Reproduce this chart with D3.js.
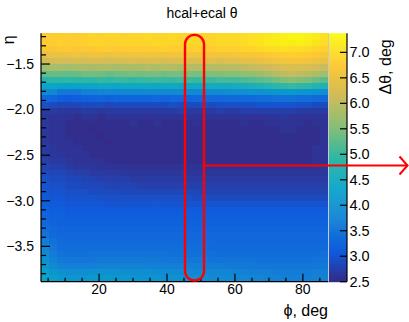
<!DOCTYPE html>
<html>
<head>
<meta charset="utf-8">
<script src="https://cdn.jsdelivr.net/npm/d3@7/dist/d3.min.js"></script>
<style>
  body { margin: 0; background: #fff; }
  text { font-family: "Liberation Sans", Arial, Helvetica, sans-serif; fill: #000; }
</style>
</head>
<body>
<svg id="chart" width="409" height="322"></svg>
<script>
// labels
const title = 'hcal+ecal θ';
const xTitle = 'ϕ, deg';
const yTitle = 'η';
const zTitle = 'Δθ, deg';

// axis ranges and ticks
const phiRange = [2.9, 87.4];
const etaRange = [-3.888, -1.163];
const zRange = [2.5, 7.374];
const xTicks = [20, 40, 60, 80];
const yTicks = [-3.5, -3.0, -2.5, -2.0, -1.5];
const zTicks = [2.5, 3.0, 3.5, 4.0, 4.5, 5.0, 5.5, 6.0, 6.5, 7.0];

// highlighted phi band and arrow (red annotation)
const bandPhi = [45.3, 50.9];
const bandEta = [-3.875, -1.18];
const arrowEta = -2.613;

// ROOT kBird palette
const birdStops = [0, 0.125, 0.25, 0.375, 0.5, 0.625, 0.75, 0.875, 1];
const birdR = [0.2082, 0.0592, 0.0780, 0.0232, 0.1802, 0.5301, 0.8186, 0.9956, 0.9764];
const birdG = [0.1664, 0.3599, 0.5041, 0.6419, 0.7178, 0.7492, 0.7328, 0.7862, 0.9832];
const birdB = [0.5293, 0.8684, 0.8385, 0.7914, 0.6425, 0.4662, 0.3499, 0.1968, 0.0539];

// mean delta theta, one row per eta bin (top row = highest eta), 36 phi bins each
const dtheta = [
  [6.8,6.8,6.8,6.85,6.8,6.85,6.9,6.85,6.9,6.9,6.85,6.9,6.9,6.95,6.9,6.9,6.95,6.9,6.9,6.95,6.9,6.9,6.95,6.95,6.95,7.0,7.05,7.1,7.15,7.2,7.25,7.3,7.3,7.25,7.2,7.05],
  [6.8,6.8,6.85,6.8,6.85,6.85,6.9,6.9,6.85,6.9,6.9,6.9,6.9,6.9,6.95,6.9,6.9,6.9,6.95,6.9,6.9,6.9,6.95,6.95,6.95,7.0,7.05,7.1,7.2,7.2,7.25,7.2,7.25,7.2,7.1,7.0],
  [6.7,6.7,6.75,6.75,6.7,6.75,6.75,6.8,6.8,6.75,6.8,6.8,6.8,6.8,6.8,6.85,6.8,6.8,6.8,6.85,6.8,6.8,6.85,6.85,6.85,6.9,6.9,6.95,7.0,7.0,7.05,7.0,7.0,6.95,6.9,6.85],
  [6.45,6.5,6.5,6.5,6.55,6.5,6.55,6.55,6.5,6.55,6.55,6.55,6.55,6.6,6.55,6.55,6.6,6.55,6.6,6.6,6.55,6.6,6.6,6.6,6.65,6.65,6.7,6.7,6.75,6.8,6.8,6.85,6.8,6.8,6.75,6.7],
  [6.15,6.2,6.2,6.2,6.25,6.2,6.25,6.25,6.2,6.25,6.25,6.3,6.25,6.3,6.3,6.25,6.3,6.3,6.3,6.3,6.3,6.35,6.3,6.35,6.35,6.4,6.4,6.45,6.5,6.55,6.6,6.6,6.6,6.55,6.5,6.45],
  [5.75,5.8,5.8,5.75,5.8,5.85,5.8,5.85,5.85,5.8,5.85,5.85,5.85,5.9,5.85,5.9,5.9,5.85,5.9,5.9,5.9,5.9,5.95,5.95,5.95,6.0,6.05,6.1,6.15,6.2,6.3,6.3,6.3,6.25,6.2,6.1],
  [5.3,5.35,5.35,5.3,5.35,5.4,5.4,5.4,5.35,5.4,5.4,5.45,5.4,5.45,5.45,5.4,5.45,5.45,5.5,5.45,5.5,5.5,5.5,5.55,5.55,5.6,5.65,5.7,5.8,5.9,6.0,6.05,6.0,5.95,5.85,5.75],
  [4.85,4.9,4.9,4.95,4.9,4.95,4.95,5.0,4.95,5.0,5.0,4.95,5.0,5.0,5.05,5.0,5.0,5.05,5.05,5.0,5.05,5.05,5.1,5.1,5.1,5.15,5.2,5.25,5.3,5.4,5.5,5.55,5.5,5.45,5.35,5.25],
  [4.4,4.4,4.35,4.3,4.35,4.4,4.4,4.45,4.45,4.4,4.45,4.45,4.45,4.5,4.45,4.5,4.5,4.45,4.5,4.5,4.5,4.55,4.55,4.55,4.6,4.6,4.65,4.7,4.8,4.9,4.95,5.0,4.95,4.9,4.8,4.7],
  [3.9,3.85,3.6,3.55,3.6,3.7,3.75,3.8,3.8,3.8,3.85,3.85,3.85,3.85,3.9,3.85,3.9,3.9,3.9,3.85,3.9,3.9,3.9,3.95,3.95,3.95,4.0,4.0,4.05,4.1,4.15,4.15,4.1,4.05,4.0,3.95],
  [3.3,3.25,3.15,3.1,3.15,3.2,3.2,3.25,3.2,3.25,3.25,3.25,3.25,3.25,3.3,3.25,3.3,3.3,3.25,3.3,3.3,3.3,3.3,3.35,3.35,3.35,3.35,3.4,3.4,3.45,3.45,3.45,3.4,3.4,3.35,3.3],
  [2.95,2.9,2.85,2.85,2.85,2.9,2.9,2.9,2.85,2.9,2.9,2.9,2.9,2.9,2.9,2.9,2.95,2.9,2.9,2.9,2.95,2.9,2.95,2.95,2.95,2.95,2.95,3.0,3.0,3.0,3.0,3.0,2.95,2.95,2.9,2.9],
  [2.7,2.7,2.65,2.65,2.65,2.7,2.7,2.65,2.7,2.7,2.7,2.7,2.7,2.7,2.7,2.7,2.7,2.75,2.7,2.7,2.7,2.7,2.75,2.7,2.7,2.75,2.75,2.75,2.75,2.75,2.75,2.75,2.7,2.7,2.7,2.7],
  [2.65,2.6,2.6,2.6,2.55,2.6,2.6,2.55,2.6,2.6,2.6,2.6,2.6,2.6,2.6,2.6,2.6,2.6,2.6,2.6,2.6,2.6,2.6,2.6,2.6,2.6,2.6,2.6,2.6,2.6,2.65,2.6,2.6,2.6,2.6,2.6],
  [2.65,2.6,2.6,2.55,2.55,2.55,2.55,2.55,2.55,2.55,2.55,2.6,2.55,2.55,2.6,2.55,2.55,2.55,2.55,2.6,2.55,2.55,2.55,2.55,2.55,2.6,2.55,2.55,2.6,2.6,2.6,2.6,2.6,2.55,2.6,2.6],
  [2.65,2.6,2.6,2.55,2.55,2.55,2.5,2.55,2.55,2.55,2.55,2.55,2.55,2.55,2.55,2.55,2.55,2.55,2.55,2.55,2.55,2.55,2.55,2.55,2.55,2.55,2.55,2.55,2.55,2.55,2.6,2.6,2.55,2.55,2.55,2.6],
  [2.65,2.6,2.6,2.55,2.55,2.55,2.55,2.5,2.55,2.55,2.55,2.55,2.55,2.55,2.55,2.55,2.55,2.55,2.55,2.55,2.55,2.55,2.55,2.55,2.55,2.55,2.55,2.55,2.55,2.55,2.55,2.55,2.55,2.55,2.55,2.6],
  [2.65,2.6,2.6,2.6,2.55,2.55,2.55,2.55,2.5,2.55,2.55,2.55,2.55,2.55,2.55,2.55,2.55,2.55,2.55,2.55,2.55,2.55,2.55,2.55,2.55,2.55,2.55,2.55,2.55,2.55,2.55,2.55,2.55,2.55,2.55,2.6],
  [2.7,2.65,2.6,2.6,2.6,2.55,2.55,2.55,2.55,2.55,2.55,2.55,2.55,2.55,2.55,2.55,2.55,2.55,2.55,2.55,2.55,2.55,2.55,2.55,2.55,2.55,2.55,2.55,2.55,2.55,2.55,2.55,2.55,2.55,2.6,2.6],
  [2.7,2.65,2.65,2.6,2.6,2.6,2.55,2.55,2.55,2.55,2.55,2.55,2.55,2.55,2.55,2.55,2.55,2.55,2.55,2.55,2.55,2.55,2.55,2.55,2.55,2.55,2.55,2.55,2.55,2.55,2.55,2.55,2.55,2.55,2.6,2.6],
  [2.75,2.7,2.7,2.65,2.6,2.6,2.6,2.6,2.55,2.55,2.55,2.55,2.55,2.55,2.55,2.55,2.55,2.55,2.55,2.55,2.55,2.55,2.55,2.55,2.55,2.55,2.55,2.55,2.55,2.55,2.55,2.55,2.55,2.55,2.6,2.6],
  [2.8,2.75,2.75,2.7,2.65,2.65,2.65,2.6,2.6,2.6,2.6,2.6,2.6,2.6,2.6,2.6,2.6,2.6,2.6,2.6,2.6,2.6,2.6,2.6,2.6,2.6,2.6,2.6,2.6,2.6,2.6,2.6,2.6,2.6,2.6,2.65],
  [2.9,2.85,2.85,2.8,2.75,2.75,2.7,2.7,2.7,2.7,2.65,2.65,2.65,2.65,2.65,2.65,2.65,2.65,2.65,2.65,2.65,2.65,2.65,2.65,2.65,2.65,2.65,2.65,2.65,2.65,2.65,2.65,2.65,2.65,2.65,2.65],
  [2.95,2.9,2.9,2.85,2.85,2.8,2.8,2.75,2.75,2.75,2.75,2.7,2.7,2.7,2.7,2.7,2.7,2.7,2.7,2.7,2.7,2.7,2.7,2.7,2.7,2.7,2.7,2.7,2.7,2.7,2.7,2.7,2.7,2.7,2.7,2.7],
  [3.0,2.95,2.95,2.9,2.9,2.85,2.85,2.85,2.8,2.8,2.8,2.8,2.75,2.75,2.75,2.75,2.75,2.75,2.75,2.75,2.75,2.75,2.75,2.75,2.75,2.75,2.75,2.75,2.75,2.75,2.75,2.75,2.75,2.75,2.75,2.75],
  [3.05,3.0,3.0,2.95,2.95,2.95,2.9,2.9,2.9,2.9,2.85,2.85,2.85,2.85,2.85,2.85,2.85,2.85,2.85,2.85,2.8,2.8,2.8,2.8,2.8,2.8,2.8,2.8,2.8,2.8,2.8,2.8,2.8,2.8,2.8,2.8],
  [3.1,3.05,3.05,3.0,3.0,3.0,3.0,2.95,2.95,2.95,2.95,2.95,2.95,2.95,2.95,2.95,2.95,2.95,2.95,2.9,2.9,2.9,2.9,2.9,2.9,2.9,2.9,2.9,2.9,2.9,2.9,2.9,2.9,2.9,2.9,2.9],
  [3.15,3.1,3.1,3.05,3.05,3.05,3.05,3.05,3.0,3.0,3.0,3.0,3.0,3.0,3.05,3.0,3.0,3.0,3.0,3.0,3.0,3.0,3.0,3.0,3.0,3.0,3.0,3.0,3.0,3.0,3.0,3.0,3.0,3.0,3.0,3.0],
  [3.2,3.15,3.15,3.1,3.1,3.1,3.1,3.1,3.1,3.1,3.1,3.1,3.1,3.1,3.1,3.1,3.1,3.1,3.1,3.1,3.1,3.1,3.1,3.1,3.1,3.1,3.1,3.1,3.1,3.1,3.1,3.1,3.1,3.1,3.1,3.1],
  [3.25,3.2,3.2,3.15,3.15,3.15,3.15,3.15,3.15,3.15,3.15,3.15,3.15,3.15,3.15,3.15,3.15,3.15,3.15,3.15,3.15,3.15,3.15,3.15,3.15,3.15,3.15,3.15,3.15,3.15,3.15,3.15,3.15,3.15,3.15,3.15],
  [3.3,3.25,3.2,3.2,3.2,3.2,3.2,3.2,3.2,3.2,3.2,3.2,3.2,3.2,3.2,3.2,3.2,3.2,3.2,3.2,3.2,3.2,3.2,3.2,3.2,3.2,3.2,3.2,3.2,3.2,3.2,3.2,3.2,3.2,3.2,3.2],
  [3.4,3.3,3.25,3.25,3.25,3.25,3.25,3.25,3.25,3.25,3.25,3.25,3.25,3.25,3.25,3.25,3.25,3.25,3.25,3.25,3.25,3.25,3.25,3.25,3.25,3.25,3.25,3.25,3.25,3.25,3.25,3.25,3.25,3.25,3.25,3.25],
  [3.5,3.35,3.3,3.3,3.3,3.3,3.3,3.3,3.3,3.3,3.3,3.3,3.3,3.3,3.3,3.3,3.3,3.3,3.3,3.3,3.3,3.3,3.3,3.3,3.3,3.3,3.3,3.3,3.3,3.3,3.3,3.3,3.3,3.3,3.3,3.3],
  [3.65,3.45,3.35,3.35,3.35,3.35,3.35,3.35,3.35,3.35,3.35,3.35,3.35,3.35,3.35,3.35,3.35,3.35,3.35,3.35,3.35,3.35,3.3,3.3,3.3,3.3,3.3,3.3,3.3,3.3,3.3,3.3,3.3,3.3,3.3,3.3],
  [3.8,3.55,3.4,3.4,3.4,3.4,3.4,3.4,3.4,3.4,3.4,3.4,3.4,3.4,3.4,3.4,3.4,3.4,3.4,3.4,3.4,3.35,3.35,3.35,3.35,3.35,3.35,3.35,3.35,3.35,3.35,3.35,3.35,3.35,3.35,3.35],
  [3.9,3.65,3.5,3.45,3.45,3.45,3.5,3.5,3.5,3.5,3.5,3.5,3.5,3.5,3.5,3.5,3.45,3.45,3.45,3.45,3.45,3.45,3.4,3.4,3.4,3.4,3.4,3.4,3.4,3.4,3.4,3.4,3.4,3.4,3.4,3.45],
  [4.0,3.75,3.6,3.55,3.55,3.55,3.55,3.6,3.6,3.6,3.6,3.6,3.6,3.6,3.6,3.55,3.55,3.55,3.55,3.55,3.55,3.5,3.5,3.5,3.5,3.5,3.5,3.45,3.45,3.45,3.45,3.45,3.45,3.45,3.5,3.5],
  [4.1,3.9,3.75,3.7,3.7,3.7,3.7,3.75,3.75,3.75,3.75,3.75,3.75,3.7,3.7,3.7,3.7,3.7,3.7,3.7,3.65,3.65,3.65,3.6,3.6,3.6,3.6,3.55,3.55,3.55,3.55,3.55,3.55,3.55,3.55,3.6],
  [4.3,4.1,4.0,3.95,3.95,3.95,4.0,4.0,4.0,4.0,3.95,3.95,3.95,3.95,3.9,3.9,3.9,3.9,3.85,3.85,3.85,3.8,3.8,3.8,3.75,3.75,3.7,3.7,3.7,3.65,3.65,3.65,3.65,3.65,3.7,3.7],
  [4.4,4.25,4.15,4.1,4.1,4.1,4.15,4.15,4.15,4.1,4.1,4.1,4.05,4.05,4.05,4.0,4.0,4.0,3.95,3.95,3.95,3.9,3.9,3.9,3.85,3.85,3.8,3.8,3.75,3.75,3.7,3.7,3.7,3.7,3.75,3.75]
];

// layout
const W = 409, H = 322;
const plot = { left: 41, right: 328, top: 33.3, bottom: 281.7 };
const bar = { left: 328, right: 347 };

const svg = d3.select('#chart');

const x = d3.scaleLinear().domain(phiRange).range([plot.left, plot.right]);
const y = d3.scaleLinear().domain(etaRange).range([plot.bottom, plot.top]);
const z = d3.scaleLinear().domain(zRange).range([plot.bottom, plot.top]);

const bird = d3.scaleLinear()
  .domain(birdStops.map(s => zRange[0] + s * (zRange[1] - zRange[0])))
  .range(birdStops.map((_, i) => d3.rgb(birdR[i] * 255, birdG[i] * 255, birdB[i] * 255)))
  .interpolate(d3.interpolateRgb)
  .clamp(true);

const nEta = dtheta.length, nPhi = dtheta[0].length;
const phiEdges = d3.range(nPhi + 1).map(j => phiRange[0] + j * (phiRange[1] - phiRange[0]) / nPhi);
const etaEdges = d3.range(nEta + 1).map(i => etaRange[1] - i * (etaRange[1] - etaRange[0]) / nEta);

const cells = [];
dtheta.forEach((row, i) => row.forEach((v, j) => cells.push({ i, j, v })));

svg.append('g')
  .attr('shape-rendering', 'crispEdges')
  .selectAll('rect')
  .data(cells)
  .join('rect')
  .attr('x', d => x(phiEdges[d.j]))
  .attr('y', d => y(etaEdges[d.i]))
  .attr('width', d => x(phiEdges[d.j + 1]) - x(phiEdges[d.j]) + 0.6)
  .attr('height', d => y(etaEdges[d.i + 1]) - y(etaEdges[d.i]) + 0.6)
  .attr('fill', d => bird(d.v));

// palette bar
const zStep = (zRange[1] - zRange[0]) / 250;
const zSteps = d3.range(zRange[0], zRange[1], zStep);
svg.append('g')
  .selectAll('rect')
  .data(zSteps)
  .join('rect')
  .attr('x', bar.left)
  .attr('width', bar.right - bar.left)
  .attr('y', d => z(d + zStep))
  .attr('height', d => z(d) - z(d + zStep) + 0.5)
  .attr('fill', d => bird(d + zStep / 2));

// thin light line between plot and palette
svg.append('line')
  .attr('x1', plot.right + 0.5).attr('x2', plot.right + 0.5)
  .attr('y1', plot.top).attr('y2', plot.bottom)
  .attr('stroke', '#c8c8c8').attr('stroke-width', 1);

// axes (ROOT style: ticks inside)
const axisColor = '#000';
const fontSize = 14;

// x axis
const gx = svg.append('g');
gx.append('line')
  .attr('x1', plot.left).attr('x2', plot.right)
  .attr('y1', plot.bottom).attr('y2', plot.bottom)
  .attr('stroke', axisColor).attr('stroke-width', 1.2);
const xMinor = d3.range(5, phiRange[1], 5);
gx.selectAll('line.tick')
  .data(xMinor)
  .join('line')
  .attr('class', 'tick')
  .attr('x1', d => x(d)).attr('x2', d => x(d))
  .attr('y1', plot.bottom)
  .attr('y2', d => plot.bottom - (xTicks.includes(d) ? 8 : 4))
  .attr('stroke', axisColor).attr('stroke-width', 1.2);
gx.selectAll('text')
  .data(xTicks)
  .join('text')
  .attr('x', d => x(d))
  .attr('y', plot.bottom + 12.5)
  .attr('text-anchor', 'middle')
  .attr('font-size', fontSize)
  .text(d3.format('d'));

// y axis
const gy = svg.append('g');
gy.append('line')
  .attr('x1', plot.left).attr('x2', plot.left)
  .attr('y1', plot.top).attr('y2', plot.bottom)
  .attr('stroke', axisColor).attr('stroke-width', 1.2);
const yMinor = d3.range(-38, -11).map(k => k / 10);
gy.selectAll('line.tick')
  .data(yMinor)
  .join('line')
  .attr('class', 'tick')
  .attr('x1', plot.left)
  .attr('x2', d => plot.left + (yTicks.some(t => Math.abs(t - d) < 1e-6) ? 9 : 5))
  .attr('y1', d => y(d)).attr('y2', d => y(d))
  .attr('stroke', axisColor).attr('stroke-width', 1.2);
gy.selectAll('text')
  .data(yTicks)
  .join('text')
  .attr('x', plot.left - 7)
  .attr('y', d => y(d))
  .attr('dy', '0.35em')
  .attr('text-anchor', 'end')
  .attr('font-size', fontSize)
  .text(d3.format('.1f'));

// z axis on the right of the palette
const gz = svg.append('g');
gz.append('line')
  .attr('x1', bar.right).attr('x2', bar.right)
  .attr('y1', plot.top).attr('y2', plot.bottom)
  .attr('stroke', axisColor).attr('stroke-width', 1.2);
gz.selectAll('line.tick')
  .data(zTicks)
  .join('line')
  .attr('class', 'tick')
  .attr('x1', bar.right).attr('x2', bar.right - 7)
  .attr('y1', d => z(d)).attr('y2', d => z(d))
  .attr('stroke', axisColor).attr('stroke-width', 1.2);
gz.selectAll('text')
  .data(zTicks)
  .join('text')
  .attr('x', bar.right + 2.5)
  .attr('y', d => z(d))
  .attr('dy', '0.35em')
  .attr('font-size', fontSize + 0.5)
  .text(d3.format('.1f'));

// titles
svg.append('text')
  .attr('x', 202).attr('y', 18)
  .attr('text-anchor', 'middle')
  .attr('font-size', 14)
  .text(title);

svg.append('text')
  .attr('x', plot.right).attr('y', 316)
  .attr('text-anchor', 'end')
  .attr('font-size', 16)
  .text(xTitle);

svg.append('text')
  .attr('transform', `translate(14,${plot.top + 2}) rotate(-90)`)
  .attr('text-anchor', 'end')
  .attr('font-size', 16)
  .text(yTitle);

svg.append('text')
  .attr('transform', `translate(391,${plot.top + 6}) rotate(-90)`)
  .attr('text-anchor', 'end')
  .attr('font-size', 16)
  .text(zTitle);

// red annotation: rounded band around phi slice and arrow
const bx0 = x(bandPhi[0]), bx1 = x(bandPhi[1]);
svg.append('rect')
  .attr('x', bx0).attr('y', y(bandEta[1]))
  .attr('width', bx1 - bx0)
  .attr('height', y(bandEta[0]) - y(bandEta[1]))
  .attr('rx', (bx1 - bx0) / 2).attr('ry', (bx1 - bx0) / 2)
  .attr('fill', 'none')
  .attr('stroke', '#f00').attr('stroke-width', 2.4);

const ay = y(arrowEta);
const tipX = W - 1.5;
svg.append('line')
  .attr('x1', bx1).attr('x2', tipX)
  .attr('y1', ay).attr('y2', ay)
  .attr('stroke', '#f00').attr('stroke-width', 2);
svg.append('path')
  .attr('d', `M${tipX - 8},${ay - 9} L${tipX},${ay} L${tipX - 8},${ay + 9}`)
  .attr('fill', 'none')
  .attr('stroke', '#f00').attr('stroke-width', 2);
</script>
</body>
</html>
